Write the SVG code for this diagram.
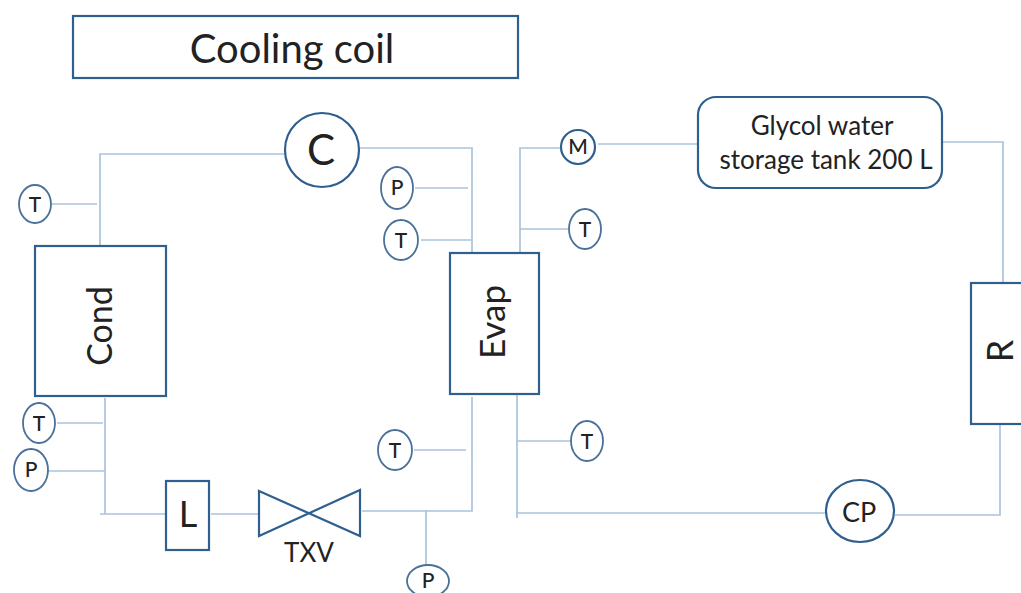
<svg xmlns="http://www.w3.org/2000/svg" width="1021" height="593" viewBox="0 0 1021 593">
<style>
text{font-family:Lato,"Open Sans",sans-serif;fill:#222;text-anchor:middle}
.n{fill:#fff;stroke:#2f5f8f;stroke-width:2.2}
.s{fill:#fff;stroke:#4a7199;stroke-width:1.8}
.c{fill:none;stroke:#a9c4dc;stroke-width:1.7}
.t{font-size:21px;font-weight:500}
</style>
<rect width="1021" height="593" fill="#fff"/>
<g id="connectors">
<path class="c" d="M100 246V154H285M360 148H472V252M520 253V148H560M598 144H698M942 142H1003V283M1000 425V515H895M826 513H516M517 395V518M472 397V511H362M258 514H211M166 514H100M105 398V514"/>
<path class="c" d="M52 204H97M415 188H468M421 240H472M520 229H570M517 441H572M414 450H466M426 510V565M57 423H103M48 471H105"/>
</g>
<g id="title"><rect class="n" x="73" y="16" width="445" height="62"/><text x="292" y="63" font-size="40">Cooling coil</text></g>
<g id="tank"><rect class="n" x="698" y="97" width="244" height="91" rx="18"/><text x="822" y="135" font-size="26">Glycol water</text><text x="826" y="169" font-size="26">storage tank 200 L</text></g>
<g id="cond"><rect class="n" x="35" y="246" width="131" height="150"/><text transform="translate(112 326) rotate(-90)" font-size="34">Cond</text></g>
<g id="evap"><rect class="n" x="450" y="253" width="89" height="141"/><text transform="translate(505 322) rotate(-90)" font-size="35">Evap</text></g>
<g id="r"><rect class="n" x="971" y="283" width="60" height="141"/><text transform="translate(1013 351) rotate(-90)" font-size="36">R</text></g>
<g id="l"><rect class="n" x="166" y="481" width="43" height="69"/><text x="188" y="527" font-size="36">L</text></g>
<g id="c"><circle class="n" cx="322" cy="150" r="37"/><text x="321" y="165" font-size="42">C</text></g>
<g id="cp"><ellipse class="n" cx="860" cy="511" rx="34" ry="31"/><text x="859" y="522" font-size="27">CP</text></g>
<g id="txv"><path class="n" d="M259 491L360 536V490L259 536Z"/><text x="309" y="562" font-size="26">TXV</text></g>
<g id="m"><circle class="n" cx="578" cy="147" r="17"/><text class="t" x="578" y="154">M</text></g>
<g id="p1"><ellipse class="s" cx="397" cy="188" rx="16" ry="21"/><text class="t" x="397" y="195">P</text></g>
<g id="t1"><ellipse class="s" cx="401" cy="240" rx="17" ry="20"/><text class="t" x="401" y="248">T</text></g>
<g id="t2"><ellipse class="s" cx="35" cy="204" rx="16" ry="19"/><text class="t" x="35" y="212">T</text></g>
<g id="t3"><ellipse class="s" cx="39" cy="423" rx="16" ry="20"/><text class="t" x="39" y="431">T</text></g>
<g id="p2"><ellipse class="s" cx="31" cy="470" rx="17" ry="21"/><text class="t" x="31" y="477">P</text></g>
<g id="t4"><ellipse class="s" cx="395" cy="450" rx="17" ry="20"/><text class="t" x="395" y="458">T</text></g>
<g id="p3"><ellipse class="s" cx="428" cy="581" rx="21" ry="16"/><text class="t" x="428" y="588">P</text></g>
<g id="t5"><ellipse class="s" cx="585" cy="229" rx="16" ry="20"/><text class="t" x="585" y="237">T</text></g>
<g id="t6"><ellipse class="s" cx="587" cy="441" rx="16" ry="20"/><text class="t" x="587" y="449">T</text></g>
</svg>
